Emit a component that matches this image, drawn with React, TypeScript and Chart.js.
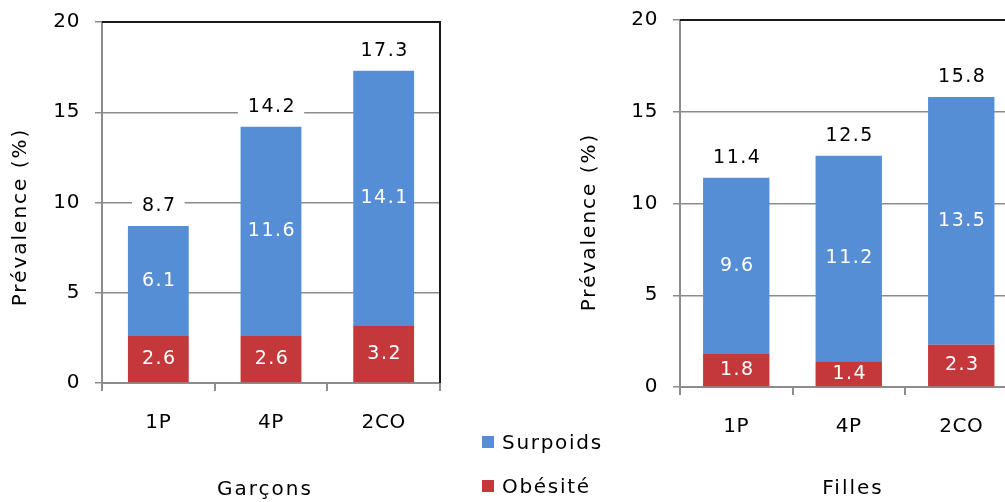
import React, { useEffect, useRef } from "react";
import { Chart, registerables } from "chart.js";

Chart.register(...registerables);

// ---- data ----
const categories = ["1P", "4P", "2CO"];
const seriesNames = ["Obésité", "Surpoids"];
const boysObesity = [2.6, 2.6, 3.2];
const boysOverweight = [6.1, 11.6, 14.1];
const boysTotal = [8.7, 14.2, 17.3];
const girlsObesity = [1.8, 1.4, 2.3];
const girlsOverweight = [9.6, 11.2, 13.5];
const girlsTotal = [11.4, 12.5, 15.8];
const yMin = 0;
const yMax = 20;
const yStep = 5;
const yTitle = "Prévalence (%)";
const boysTitle = "Garçons";
const girlsTitle = "Filles";

// ---- styles ----
const BLUE = "#568ed6";
const RED = "#c4373a";
const AXIS = "#8c8c8c";
const FONT = "'DejaVu Sans', sans-serif";
const TICK_SPACING = "0.6px";
const LABEL_SPACING = "1.5px";
const TITLE_SPACING = "2px";
const LEGEND_SPACING = "1.7px";

const spacingPlugin = {
  id: "spacing",
  beforeUpdate(chart: any) {
    chart.ctx.letterSpacing = TICK_SPACING;
  },
  beforeDraw(chart: any) {
    chart.ctx.letterSpacing = TICK_SPACING;
  },
};

const labelPlugin = {
  id: "stackLabels",
  afterDatasetsDraw(chart: any, _args: any, opts: any) {
    const ctx = chart.ctx;
    ctx.save();
    ctx.letterSpacing = LABEL_SPACING;
    ctx.font = `19px ${FONT}`;
    ctx.textAlign = "center";
    ctx.textBaseline = "middle";
    chart.data.datasets.forEach((ds: any, di: number) => {
      const meta = chart.getDatasetMeta(di);
      meta.data.forEach((el: any, i: number) => {
        ctx.fillStyle = "#ffffff";
        ctx.fillText(Number(ds.data[i]).toFixed(1), el.x + 1, (el.y + el.base) / 2);
      });
    });
    const topMeta = chart.getDatasetMeta(chart.data.datasets.length - 1);
    (opts.totals || []).forEach((t: number, i: number) => {
      const el: any = topMeta.data[i];
      const y = el.y - 20;
      const txt = t.toFixed(1);
      const w = ctx.measureText(txt).width + 18;
      ctx.fillStyle = "#ffffff";
      ctx.fillRect(el.x - w / 2, y - 12, w, 24);
      ctx.fillStyle = "#000000";
      ctx.fillText(txt, el.x + 1, y);
    });
    ctx.restore();
  },
};

const framePlugin = {
  id: "frame",
  afterDraw(chart: any, _args: any, opts: any) {
    const ctx = chart.ctx;
    const ca = chart.chartArea;
    ctx.save();
    ctx.strokeStyle = "#1a1a1a";
    ctx.lineWidth = 2;
    ctx.beginPath();
    ctx.moveTo(ca.left, ca.top);
    ctx.lineTo(ca.right, ca.top);
    ctx.lineTo(ca.right, ca.bottom);
    ctx.stroke();
    ctx.letterSpacing = TITLE_SPACING;
    ctx.fillStyle = "#000000";
    ctx.font = `20px ${FONT}`;
    ctx.textAlign = "center";
    ctx.textBaseline = "middle";
    ctx.save();
    ctx.translate(opts.yTitleX, opts.yTitleY);
    ctx.rotate(-Math.PI / 2);
    ctx.fillText(yTitle, 0, 0);
    ctx.restore();
    ctx.fillText(opts.xTitle, opts.xTitleX, opts.xTitleY);
    ctx.restore();
  },
};

function makeConfig(
  obesity: number[],
  overweight: number[],
  totals: number[],
  lay: any
): any {
  return {
    type: "bar",
    data: {
      labels: categories,
      datasets: [
        { label: seriesNames[0], data: obesity, backgroundColor: RED, borderWidth: 0 },
        { label: seriesNames[1], data: overweight, backgroundColor: BLUE, borderWidth: 0 },
      ],
    },
    plugins: [spacingPlugin, labelPlugin, framePlugin],
    options: {
      animation: false,
      responsive: false,
      events: [],
      layout: { padding: { top: lay.top, right: lay.right, left: 0, bottom: 0 } },
      datasets: { bar: { categoryPercentage: 1, barPercentage: lay.barPct } },
      plugins: {
        legend: { display: false },
        tooltip: { enabled: false },
        stackLabels: { totals },
        frame: {
          yTitleX: lay.yTitleX,
          yTitleY: lay.yTitleY,
          xTitle: lay.xTitle,
          xTitleX: lay.xTitleX,
          xTitleY: lay.xTitleY,
        },
      },
      scales: {
        x: {
          stacked: true,
          offset: true,
          grid: {
            offset: true,
            drawOnChartArea: false,
            color: AXIS,
            lineWidth: 2,
            tickLength: 8,
          },
          border: { color: AXIS, width: 2 },
          ticks: { font: { family: FONT, size: 20 }, color: "#000000", padding: 20 },
          afterFit: (s: any) => {
            s.height = lay.xHeight;
            s.paddingLeft = 0;
            s.paddingRight = 0;
          },
        },
        y: {
          stacked: true,
          min: yMin,
          max: yMax,
          grid: { color: AXIS, lineWidth: 1.5, tickLength: 7 },
          border: { color: AXIS, width: 2 },
          ticks: {
            stepSize: yStep,
            font: { family: FONT, size: 20 },
            color: "#000000",
            padding: 15,
          },
          afterFit: (s: any) => {
            s.width = lay.yWidth;
            s.paddingTop = 0;
            s.paddingBottom = 0;
          },
        },
      },
    },
  };
}

function BarChart(props: {
  obesity: number[];
  overweight: number[];
  totals: number[];
  lay: any;
  left: number;
  width: number;
}) {
  const ref = useRef<HTMLCanvasElement | null>(null);
  useEffect(() => {
    if (!ref.current) return;
    const chart = new Chart(
      ref.current,
      makeConfig(props.obesity, props.overweight, props.totals, props.lay)
    );
    return () => chart.destroy();
  }, []);
  return (
    <canvas
      ref={ref}
      width={props.width}
      height={502}
      style={{
        position: "absolute",
        left: props.left,
        top: 0,
        width: props.width,
        height: 502,
      }}
    />
  );
}

const legendText: React.CSSProperties = {
  position: "absolute",
  left: 502,
  fontFamily: FONT,
  fontSize: 20,
  lineHeight: "20px",
  letterSpacing: LEGEND_SPACING,
  color: "#000",
  whiteSpace: "nowrap",
};

export default function App() {
  return (
    <div
      style={{
        position: "fixed",
        left: 0,
        top: 0,
        width: 1005,
        height: 502,
        overflow: "hidden",
        background: "#ffffff",
      }}
    >
      <BarChart
        obesity={boysObesity}
        overweight={boysOverweight}
        totals={boysTotal}
        left={0}
        width={450}
        lay={{
          top: 22,
          right: 10,
          yWidth: 102,
          xHeight: 119,
          barPct: 0.54,
          yTitleX: 21,
          yTitleY: 217,
          xTitle: boysTitle,
          xTitleX: 265,
          xTitleY: 490,
        }}
      />
      <BarChart
        obesity={girlsObesity}
        overweight={girlsOverweight}
        totals={girlsTotal}
        left={560}
        width={470}
        lay={{
          top: 20,
          right: 12.5,
          yWidth: 120,
          xHeight: 115,
          barPct: 0.59,
          yTitleX: 30,
          yTitleY: 222,
          xTitle: girlsTitle,
          xTitleX: 293,
          xTitleY: 489,
        }}
      />
      <div style={{ position: "absolute", left: 482, top: 436, width: 12, height: 12, background: BLUE }} />
      <div style={{ ...legendText, top: 432 }}>{seriesNames[1]}</div>
      <div style={{ position: "absolute", left: 482, top: 480, width: 12, height: 12, background: RED }} />
      <div style={{ ...legendText, top: 476 }}>{seriesNames[0]}</div>
    </div>
  );
}
